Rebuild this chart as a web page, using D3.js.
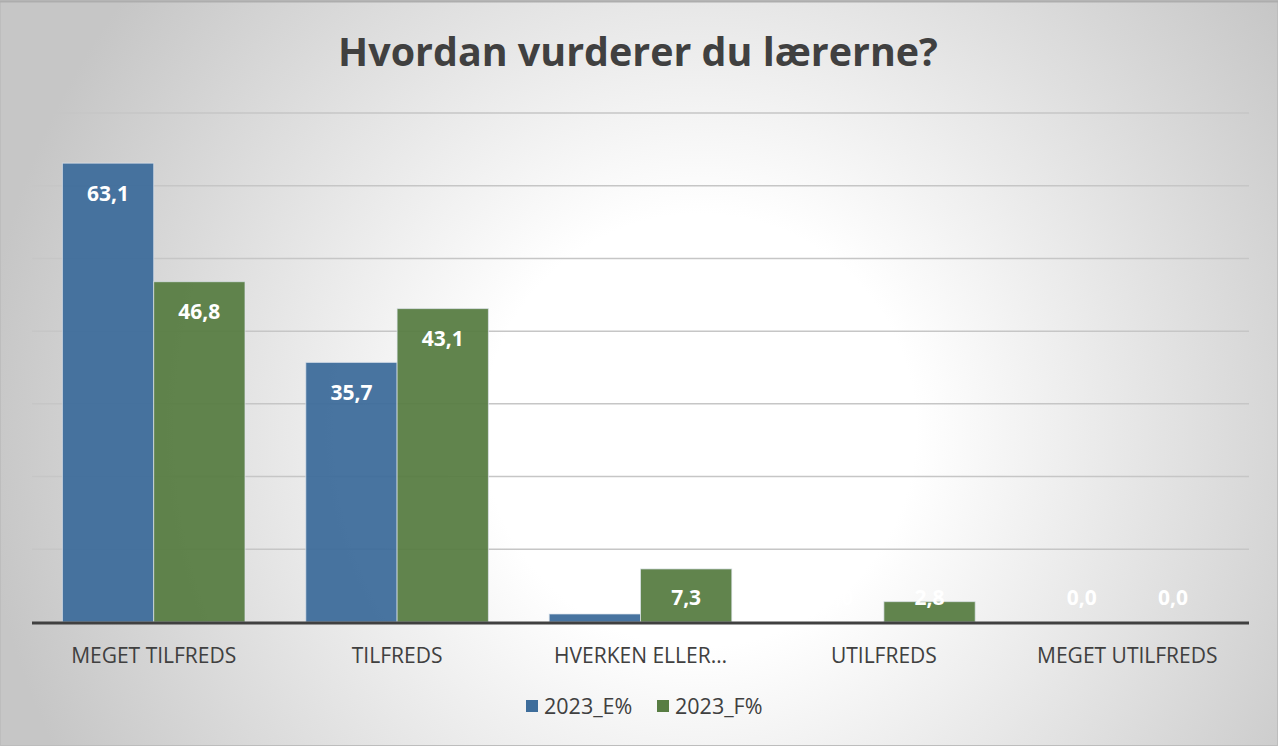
<!DOCTYPE html>
<html>
<head>
<meta charset="utf-8">
<script src="https://cdn.jsdelivr.net/npm/d3@7"></script>
<style>
  html, body { margin: 0; padding: 0; background: #fff; }
  svg { display: block; }
  text { font-family: "Open Sans", "Noto Sans", sans-serif; }
</style>
</head>
<body>
<div id="chart"></div>
<script>
'use strict';

var categories = ['MEGET TILFREDS', 'TILFREDS', 'HVERKEN ELLER…', 'UTILFREDS', 'MEGET UTILFREDS'];
var seriesNames = ['2023_E%', '2023_F%'];
var valuesE = [63.1, 35.7, 1.1, 0.0, 0.0];
var valuesF = [46.8, 43.1, 7.3, 2.8, 0.0];
var yTicks = [0, 10, 20, 30, 40, 50, 60, 70];
var colors = ['#3e6d9b', '#587d43'];

var width = 1278, height = 746;
var margin = {top: 113, right: 29, bottom: 124, left: 32};
var plotW = width - margin.left - margin.right;
var plotH = height - margin.top - margin.bottom;

var svg = d3.select('#chart').append('svg')
    .attr('width', width)
    .attr('height', height);

// Background: soft radial gradient, grey edges, white middle.
var defs = svg.append('defs');
var grad = defs.append('radialGradient')
    .attr('id', 'bg')
    .attr('gradientUnits', 'userSpaceOnUse')
    .attr('cx', 700).attr('cy', 430).attr('r', 720);
grad.append('stop').attr('offset', '0%').attr('stop-color', '#ffffff');
grad.append('stop').attr('offset', '30%').attr('stop-color', '#ffffff');
grad.append('stop').attr('offset', '100%').attr('stop-color', '#c6c6c6');

svg.append('rect')
    .attr('x', 0.5).attr('y', 0.5)
    .attr('width', width - 1).attr('height', height - 1)
    .attr('fill', 'url(#bg)')
    .attr('stroke', '#bdbdbd');
svg.append('line')
    .attr('x1', 0).attr('x2', width).attr('y1', 1.5).attr('y2', 1.5)
    .attr('stroke', '#adadad').attr('stroke-width', 2);

// Title, fitted to the width it has in the picture.
var title = svg.append('text')
    .attr('x', width / 2 - 1)
    .attr('y', 66)
    .attr('text-anchor', 'middle')
    .attr('fill', '#404040')
    .attr('font-weight', 'bold')
    .attr('font-size', 40)
    .text('Hvordan vurderer du lærerne?');
var tw = title.node().getComputedTextLength();
title.attr('font-size', 40 * 600 / tw);

var g = svg.append('g')
    .attr('transform', 'translate(' + margin.left + ',' + margin.top + ')');

var yScale = d3.scaleLinear().domain([0, 70]).range([plotH, 0]);
var x0 = d3.scaleBand().domain(categories).range([0, plotW]).padding(0);
var x1 = d3.scaleBand().domain(seriesNames)
    .range([0, x0.bandwidth()])
    .paddingInner(0)
    .paddingOuter(0.333);

// Gridlines.
g.selectAll('line.grid')
    .data(yTicks.slice(1))
    .enter()
    .append('line')
    .attr('class', 'grid')
    .attr('x1', 0).attr('x2', plotW)
    .attr('y1', function(d) { return yScale(d); })
    .attr('y2', function(d) { return yScale(d); })
    .attr('stroke', '#c6c6c6')
    .attr('stroke-width', 1.5);

var rows = categories.map(function(c, i) {
    return {cat: c, vals: [valuesE[i], valuesF[i]]};
});

var groups = g.selectAll('g.cat')
    .data(rows)
    .enter()
    .append('g')
    .attr('class', 'cat')
    .attr('transform', function(d) { return 'translate(' + x0(d.cat) + ',0)'; });

var bars = groups.selectAll('g.bar')
    .data(function(d) {
        return d.vals.map(function(v, j) { return {name: seriesNames[j], value: v, idx: j}; });
    })
    .enter()
    .append('g')
    .attr('class', 'bar');

bars.filter(function(d) { return d.value > 0; })
    .append('rect')
    .attr('x', function(d) { return x1(d.name); })
    .attr('y', function(d) { return yScale(d.value); })
    .attr('width', x1.bandwidth())
    .attr('height', function(d) { return plotH - yScale(d.value); })
    .attr('fill', function(d) { return colors[d.idx]; })
    .attr('fill-opacity', 0.95)
    .attr('stroke', '#dfe6ee')
    .attr('stroke-opacity', 0.7)
    .attr('stroke-width', 1);

// Data labels: inside end, kept above the axis for short bars.
bars.append('text')
    .attr('x', function(d) { return x1(d.name) + x1.bandwidth() / 2; })
    .attr('y', function(d) { return Math.min(yScale(d.value) + 30, plotH - 25) + 7.5; })
    .attr('text-anchor', 'middle')
    .attr('fill', '#ffffff')
    .attr('font-weight', 'bold')
    .attr('font-size', 21)
    .text(function(d) { return d.value.toFixed(1).replace('.', ','); });

// x axis line.
g.append('line')
    .attr('x1', 0).attr('x2', plotW)
    .attr('y1', plotH + 1).attr('y2', plotH + 1)
    .attr('stroke', '#404040')
    .attr('stroke-width', 3);

// Category labels.
g.selectAll('text.cat')
    .data(categories)
    .enter()
    .append('text')
    .attr('class', 'cat')
    .attr('x', function(d) { return x0(d) + x0.bandwidth() / 2; })
    .attr('y', plotH + 41)
    .attr('text-anchor', 'middle')
    .attr('fill', '#404040')
    .attr('font-size', 21)
    .text(function(d) { return d; });

// Legend.
var legend = svg.append('g').attr('transform', 'translate(0,706)');
var legendX = [526, 657];
seriesNames.forEach(function(name, i) {
    legend.append('rect')
        .attr('x', legendX[i]).attr('y', -6)
        .attr('width', 12).attr('height', 12)
        .attr('fill', colors[i]);
    legend.append('text')
        .attr('x', legendX[i] + 18)
        .attr('y', 8)
        .attr('fill', '#404040')
        .attr('font-size', 21.5)
        .text(name);
});
</script>
</body>
</html>
